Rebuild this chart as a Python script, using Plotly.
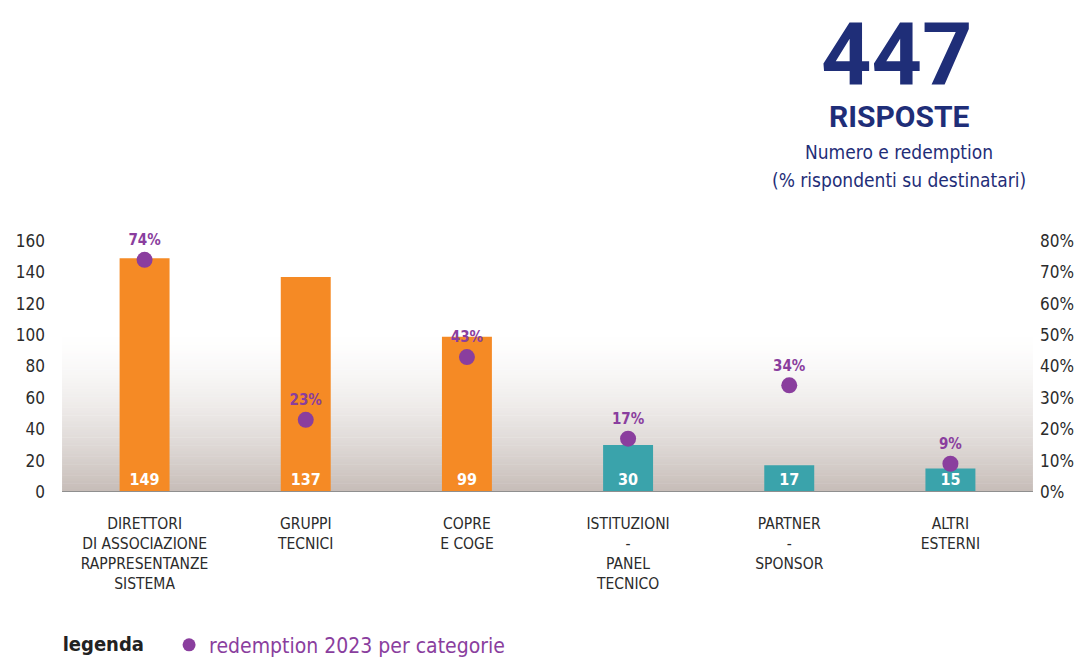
import plotly.graph_objects as go

# ---- data ----
categories = ["DIRETTORI<br>DI ASSOCIAZIONE<br>RAPPRESENTANZE<br>SISTEMA",
              "GRUPPI<br>TECNICI",
              "COPRE<br>E COGE",
              "ISTITUZIONI<br>-<br>PANEL<br>TECNICO",
              "PARTNER<br>-<br>SPONSOR",
              "ALTRI<br>ESTERNI"]
risposte = [149, 137, 99, 30, 17, 15]
redemption = [74, 23, 43, 17, 34, 9]
left_ticks = [0, 20, 40, 60, 80, 100, 120, 140, 160]
right_ticks = [0, 10, 20, 30, 40, 50, 60, 70, 80]
total = 447

ORANGE = "#F58A25"
TEAL = "#3AA3AB"
PURPLE = "#8A3E9E"
NAVY = "#1F2E78"
DARK = "#2b2b2b"
FONT = "DejaVu Sans Condensed, sans-serif"
TFONT = "Roboto, sans-serif"

bar_colors = [ORANGE, ORANGE, ORANGE, TEAL, TEAL, TEAL]
xs = list(range(len(categories)))

fig = go.Figure()

fig.add_trace(go.Bar(
    x=xs, y=risposte, marker=dict(color=bar_colors, line=dict(width=0)),
    width=0.31, text=[str(v) for v in risposte], textposition="inside",
    insidetextanchor="start", textangle=0,
    textfont=dict(color="white", size=16, family=FONT, weight="bold"),
    showlegend=False, hoverinfo="skip", cliponaxis=False))

fig.add_trace(go.Scatter(
    x=xs, y=redemption, yaxis="y2", mode="markers+text",
    marker=dict(size=16, color=PURPLE),
    text=[f"{v}%" for v in redemption], textposition="top center",
    textfont=dict(color=PURPLE, size=15, family=FONT, weight="bold"),
    showlegend=False, cliponaxis=False, hoverinfo="skip"))

fig.add_trace(go.Scatter(
    x=[None], y=[None], yaxis="y2", mode="markers",
    marker=dict(size=13, color=PURPLE),
    name="redemption 2023 per categorie", showlegend=True))

# background gradient
shapes = []
n = 60
top = 104.0
c0 = (255, 255, 255)
c1 = (198, 188, 183)
for i in range(n):
    y0 = top * i / n
    y1 = top * (i + 1) / n
    t = 1 - (i + 0.5) / n
    t = t ** 1.6
    col = tuple(int(round(c0[k] + (c1[k] - c0[k]) * t)) for k in range(3))
    shapes.append(dict(type="rect", xref="paper", yref="y", x0=-0.002, x1=1.002,
                       y0=y0, y1=y1 + 0.3, fillcolor="rgb(%d,%d,%d)" % col,
                       line=dict(width=0), layer="below"))
shapes.append(dict(type="line", xref="paper", yref="y", x0=-0.002, x1=1.002,
                   y0=0, y1=0, line=dict(color="#8f8f8f", width=2), layer="above"))

def ann(text, x, y, size, family):
    return dict(text=text, x=x, y=y, xref="paper", yref="paper", xanchor="center",
                yanchor="middle", showarrow=False,
                font=dict(size=size, color=NAVY, family=family))

annotations = [
    ann(f"<b>{total}</b>", 0.861, 1.745, 88, TFONT),
    ann("<b>RISPOSTE</b>", 0.864, 1.495, 30, TFONT),
    ann("Numero e redemption", 0.864, 1.353, 19, FONT),
    ann("(% rispondenti su destinatari)", 0.864, 1.243, 19, FONT),
]

fig.update_layout(
    width=1083, height=659,
    margin=dict(l=64, r=52, t=241, b=167, autoexpand=False),
    paper_bgcolor="white", plot_bgcolor="rgba(0,0,0,0)",
    shapes=shapes, annotations=annotations,
    xaxis=dict(range=[-0.5, 5.5], tickvals=xs, ticktext=categories,
               showgrid=False, zeroline=False, showline=False, ticks="",
               tickfont=dict(size=15.5, color=DARK, family=FONT),
               ticklabelstandoff=20, automargin=False),
    yaxis=dict(range=[0, 160], tickvals=left_ticks, showgrid=False, zeroline=False,
               showline=False, ticks="", tickfont=dict(size=17, color=DARK, family=FONT),
               ticklabelstandoff=18, automargin=False),
    yaxis2=dict(range=[0, 80], overlaying="y", side="right", tickvals=right_ticks,
                ticktext=[f"{v}%" for v in right_ticks], showgrid=False,
                zeroline=False, showline=False, ticks="",
                tickfont=dict(size=17, color=DARK, family=FONT), ticklabelstandoff=8,
                automargin=False),
    legend=dict(orientation="h", x=0.056, y=0.021, xref="container", yref="container",
                xanchor="left", yanchor="middle",
                title=dict(text="<b>legenda</b>   ", font=dict(size=20, color="#222222", family=FONT)),
                font=dict(size=21, color=PURPLE, family=FONT), bgcolor="rgba(0,0,0,0)"),
    uniformtext=dict(minsize=15, mode="show"),
)

fig.write_html("out.html")
